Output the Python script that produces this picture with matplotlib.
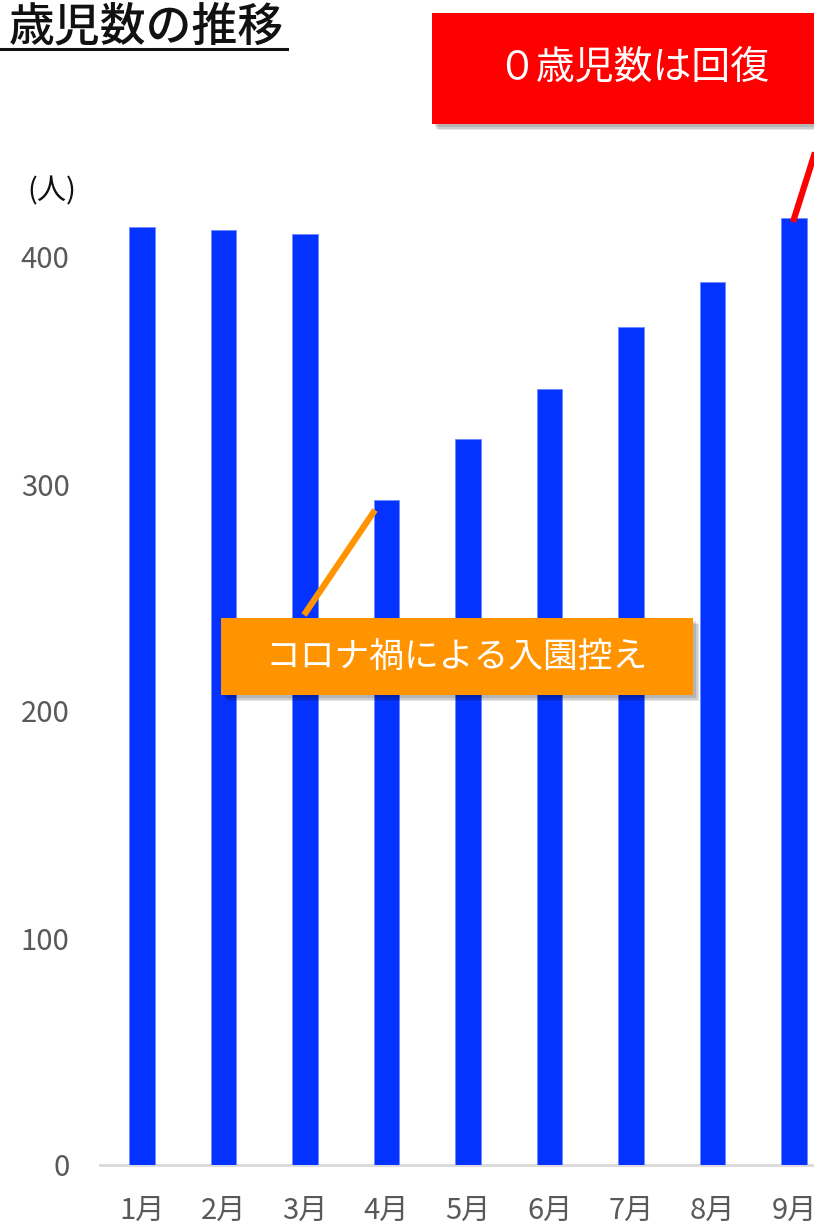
import matplotlib
matplotlib.use("Agg")
import matplotlib.pyplot as plt
from matplotlib.patches import Rectangle
from matplotlib.lines import Line2D

plt.rcParams['font.family'] = ['Noto Sans CJK JP', 'DejaVu Sans']

months = ["1月", "2月", "3月", "4月", "5月", "6月", "7月", "8月", "9月"]
infants = [413, 412, 410, 293, 320, 342, 369, 389, 417]
yticks = [0, 100, 200, 300, 400]

title_text = "歳児数の推移"
unit_text = "(人)"
red_note = "０歳児数は回復"
orange_note = "コロナ禍による入園控え"

W, H = 814, 1232
fig = plt.figure(figsize=(W / 100, H / 100), dpi=100)


def fx(px):
    return px / W


def fy(py):
    return 1 - py / H


# main bar axes
ax = fig.add_axes([fx(100), fy(1165), fx(714), (1165 - 143.5) / H])
x = list(range(len(months)))
ax.bar(x, infants, width=0.31, color="#0433FF", edgecolor="#6f8bff", linewidth=0.6, zorder=3)
ax.set_xlim(-0.515, 8.245)
ax.set_ylim(0, 450)
ax.set_yticks(yticks)
ax.set_yticklabels([str(v) for v in yticks])
ax.set_xticks(x)
ax.set_xticklabels(months)
ax.tick_params(axis="y", length=0, pad=22, labelsize=21, labelcolor="#595959")
ax.tick_params(axis="x", length=0, pad=22, labelsize=21, labelcolor="#595959")
for side in ("top", "right", "left"):
    ax.spines[side].set_visible(False)
ax.spines["bottom"].set_color("#d9d9d9")
ax.spines["bottom"].set_linewidth(2)
ax.patch.set_alpha(0)

# unit label
fig.text(fx(52), fy(191), unit_text, ha="center", va="center", fontsize=21, color="#111111")

# title with underline
fig.text(fx(9), fy(27), title_text, ha="left", va="center", fontsize=33,
         fontweight="medium", color="#111111")
fig.add_artist(Line2D([fx(0), fx(287)], [fy(49), fy(49)], color="#111111", linewidth=2.2,
                      transform=fig.transFigure))


def callout_box(x0, y0, x1, y1, color):
    # soft drop shadow
    for i, a in enumerate([0.10, 0.10, 0.12]):
        off = 6 - i * 1.5
        fig.add_artist(Rectangle((fx(x0 + off), fy(y1 + off)), fx(x1 - x0), (y1 - y0) / H,
                                 transform=fig.transFigure, facecolor="#000000",
                                 edgecolor="none", alpha=a, zorder=5))
    fig.add_artist(Rectangle((fx(x0), fy(y1)), fx(x1 - x0), (y1 - y0) / H,
                             transform=fig.transFigure, facecolor=color,
                             edgecolor="none", zorder=6))


# red callout
fig.add_artist(Line2D([fx(793), fx(818)], [fy(222), fy(143)], color="#FF0000", linewidth=4.5,
                      transform=fig.transFigure, zorder=6, solid_capstyle="butt"))
callout_box(432, 13, 830, 124, "#FF0000")
fig.text(fx(633), fy(68), red_note, ha="center", va="center", fontsize=28,
         color="white", zorder=7)

# orange callout
fig.add_artist(Line2D([fx(304), fx(375)], [fy(615), fy(510)], color="#FF9300", linewidth=4.5,
                      transform=fig.transFigure, zorder=6, solid_capstyle="butt"))
callout_box(221, 618, 693, 695, "#FF9300")
fig.text(fx(457), fy(657), orange_note, ha="center", va="center", fontsize=25,
         color="white", zorder=7)

fig.savefig("out.png", dpi=100)
